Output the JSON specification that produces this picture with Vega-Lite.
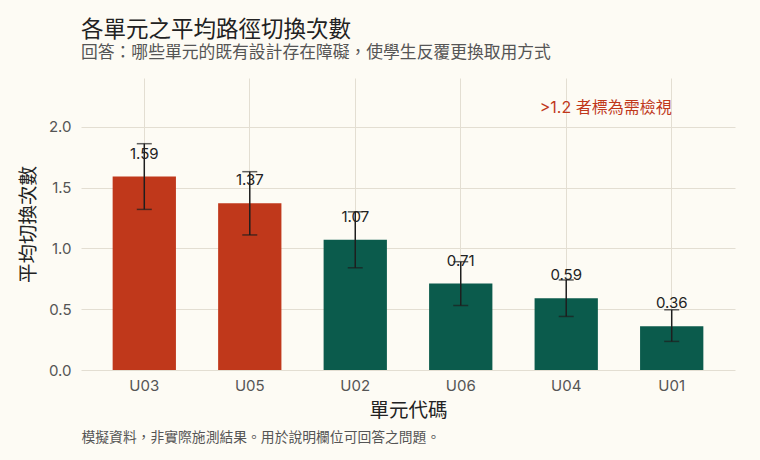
{
  "$schema": "https://vega.github.io/schema/vega-lite/v6.json",
  "width": 654,
  "height": 292,
  "autosize": {"type": "none"},
  "padding": {"left": 81, "top": 78, "right": 25, "bottom": 90},
  "background": "#FDFBF4",
  "title": {
    "text": "各單元之平均路徑切換次數",
    "subtitle": "回答：哪些單元的既有設計存在障礙，使學生反覆更換取用方式",
    "anchor": "start",
    "frame": "group",
    "offset": 16,
    "font": "Inter, Noto Sans CJK TC",
    "fontSize": 22.5,
    "fontWeight": "normal",
    "color": "#222222",
    "subtitleFont": "Inter, Noto Sans CJK TC",
    "subtitleFontSize": 16.8,
    "subtitleColor": "#555555",
    "subtitlePadding": 4
  },
  "config": {
    "view": {"stroke": null},
    "font": "Inter, Noto Sans CJK TC",
    "axis": {
      "labelFont": "Inter, Noto Sans CJK TC",
      "titleFont": "Inter, Noto Sans CJK TC",
      "labelColor": "#555555",
      "labelFontSize": 15,
      "titleColor": "#222222",
      "titleFontSize": 19.5,
      "titleFontWeight": "normal",
      "gridColor": "#E3DED2",
      "gridWidth": 1,
      "domain": false,
      "ticks": false
    }
  },
  "data": {
    "values": [
      {"unit": "U03", "mean": 1.59, "lo": 1.32, "hi": 1.86, "flag": "需檢視"},
      {"unit": "U05", "mean": 1.37, "lo": 1.11, "hi": 1.63, "flag": "需檢視"},
      {"unit": "U02", "mean": 1.07, "lo": 0.84, "hi": 1.30, "flag": "一般"},
      {"unit": "U06", "mean": 0.71, "lo": 0.53, "hi": 0.89, "flag": "一般"},
      {"unit": "U04", "mean": 0.59, "lo": 0.44, "hi": 0.74, "flag": "一般"},
      {"unit": "U01", "mean": 0.36, "lo": 0.235, "hi": 0.495, "flag": "一般"}
    ]
  },
  "resolve": {"axis": {"x": "independent"}},
  "layer": [
    {
      "mark": {"type": "bar"},
      "encoding": {
        "x": {
          "field": "unit",
          "type": "nominal",
          "scale": {"domain": ["U03", "U05", "U02", "U06", "U04", "U01"], "paddingInner": 0.4, "paddingOuter": 0.3},
          "axis": {"title": "單元代碼", "labelAngle": 0, "labelPadding": 8, "titlePadding": 8, "grid": true, "bandPosition": 0.5}
        },
        "y": {
          "field": "mean",
          "type": "quantitative",
          "scale": {"domain": [0, 2.4], "nice": false},
          "axis": {"title": "平均切換次數", "values": [0, 0.5, 1, 1.5, 2], "format": ".1f", "labelPadding": 10, "titlePadding": 10, "grid": true}
        },
        "color": {
          "field": "flag",
          "type": "nominal",
          "scale": {"domain": ["需檢視", "一般"], "range": ["#C0381B", "#0B5B4C"]},
          "legend": null
        }
      }
    },
    {
      "mark": {"type": "rule", "color": "#1E1E1E", "strokeWidth": 1.5},
      "encoding": {
        "x": {"field": "unit", "type": "nominal", "axis": null},
        "y": {"field": "lo", "type": "quantitative"},
        "y2": {"field": "hi"}
      }
    },
    {
      "mark": {"type": "tick", "color": "#1E1E1E", "thickness": 1.5, "size": 15},
      "encoding": {
        "x": {"field": "unit", "type": "nominal", "axis": null},
        "y": {"field": "hi", "type": "quantitative"}
      }
    },
    {
      "mark": {"type": "tick", "color": "#1E1E1E", "thickness": 1.5, "size": 15},
      "encoding": {
        "x": {"field": "unit", "type": "nominal", "axis": null},
        "y": {"field": "lo", "type": "quantitative"}
      }
    },
    {
      "mark": {"type": "text", "dy": -23, "baseline": "middle", "fontSize": 15, "color": "#222222", "font": "Inter, Noto Sans CJK TC"},
      "encoding": {
        "x": {"field": "unit", "type": "nominal", "axis": null},
        "y": {"field": "mean", "type": "quantitative"},
        "text": {"field": "mean", "type": "quantitative", "format": ".2f"}
      }
    },
    {
      "data": {"values": [{"unit": "U01", "y": 2.15, "note": ">1.2 者標為需檢視"}]},
      "mark": {"type": "text", "align": "right", "baseline": "middle", "fontSize": 16, "color": "#C0381B", "font": "Inter, Noto Sans CJK TC"},
      "encoding": {
        "x": {
          "field": "unit",
          "type": "nominal",
          "axis": {
            "orient": "bottom",
            "labels": false,
            "grid": false,
            "title": "模擬資料，非實際施測結果。用於說明欄位可回答之問題。",
            "titleFontSize": 13.8,
            "titleColor": "#555555",
            "titleAnchor": "start",
            "titleAlign": "left",
            "titleBaseline": "middle",
            "titleX": 0,
            "titleY": 67
          }
        },
        "y": {"field": "y", "type": "quantitative"},
        "text": {"field": "note"}
      }
    }
  ]
}
